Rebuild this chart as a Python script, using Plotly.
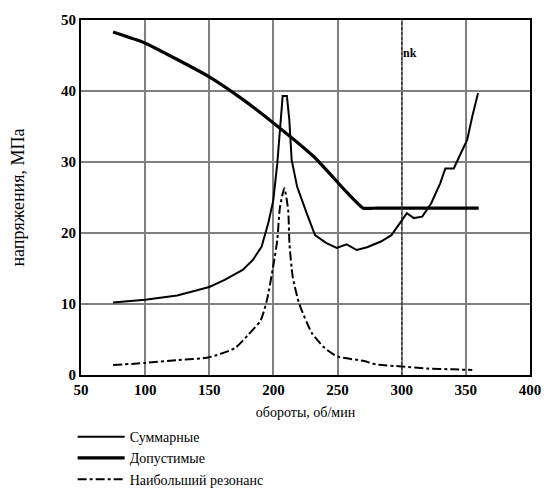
import plotly.graph_objects as go

# Допустимые (allowable)
allow_x = [75, 99.3, 125.4, 150, 174.7, 200.7, 231.8, 257.9, 270, 280, 300, 330, 360]
allow_y = [48.3, 46.8, 44.4, 42.0, 39.0, 35.4, 30.7, 25.6, 23.5, 23.5, 23.5, 23.5, 23.5]

# Суммарные (total)
sum_x = [75, 100, 125, 150, 162, 176, 184, 190.8, 196, 199.9, 203, 205.1, 207.2, 210.5,
         212.4, 214.2, 218.5, 225.9, 232.4, 241, 249.3, 257.1, 265, 273, 283.8, 292, 300,
         304, 309.5, 316, 323, 330, 334, 340.6, 346, 351, 355, 359.5]
sum_y = [10.2, 10.6, 11.2, 12.4, 13.4, 14.8, 16.2, 18.1, 21.4, 24.6, 29.8, 34.5, 39.3, 39.3,
         35.9, 30.3, 26.5, 22.8, 19.7, 18.6, 17.9, 18.4, 17.6, 18.0, 18.8, 19.7, 21.8,
         22.8, 22.1, 22.3, 24.2, 27.0, 29.1, 29.1, 31.2, 33.1, 36.4, 39.7]

# Наибольший резонанс (largest resonance)
res_x = [75, 100, 125, 150, 170, 180, 190, 195, 200, 203, 205, 208.5, 211.5, 212.5, 215, 220,
         230, 240, 250, 270, 280, 300, 320, 340, 355]
res_y = [1.4, 1.7, 2.1, 2.5, 3.8, 5.6, 7.7, 10.6, 15.5, 19.0, 23.5, 26.3, 23.2, 18.5, 13.9,
         10.1, 5.9, 3.8, 2.6, 2.0, 1.5, 1.2, 0.9, 0.8, 0.7]

nk_x = 300
x_ticks = [50, 100, 150, 200, 250, 300, 350, 400]
y_ticks = [0, 10, 20, 30, 40, 50]

SERIF = "Liberation Serif, DejaVu Serif, serif"

fig = go.Figure()
fig.add_trace(go.Scatter(x=sum_x, y=sum_y, mode="lines", name="Суммарные",
                         line=dict(color="black", width=2)))
fig.add_trace(go.Scatter(x=allow_x, y=allow_y, mode="lines", name="Допустимые",
                         line=dict(color="black", width=3.2, shape="spline", smoothing=0.4)))
fig.add_trace(go.Scatter(x=res_x, y=res_y, mode="lines", name="Наибольший резонанс",
                         line=dict(color="black", width=2, dash="dashdot", shape="spline",
                                   smoothing=0.6)))

fig.add_shape(type="line", x0=nk_x, x1=nk_x, y0=0, y1=50, xref="x", yref="y",
              line=dict(color="#333333", width=1.2, dash="3px,2px"), layer="above")
fig.add_annotation(x=nk_x, y=45.3, xref="x", yref="y", text="<b>nk</b>", showarrow=False,
                   xanchor="left", yanchor="middle", xshift=-1,
                   font=dict(family=SERIF, size=12, color="black"))

fig.update_layout(
    width=544, height=488,
    margin=dict(l=81, r=14, t=20, b=113, autoexpand=False),
    paper_bgcolor="white", plot_bgcolor="white",
    font=dict(family=SERIF, color="black"),
    showlegend=True,
    legend=dict(x=-0.0186, y=-0.13, xanchor="left", yanchor="top",
                font=dict(family=SERIF, size=14, color="black"),
                tracegroupgap=0, itemwidth=47, bgcolor="rgba(0,0,0,0)"),
)
fig.update_xaxes(range=[50, 400], tickvals=x_ticks, ticks="", showgrid=True,
                 gridcolor="#808080", gridwidth=2, zeroline=False,
                 showline=True, linecolor="black", linewidth=2, mirror=True,
                 tickfont=dict(family=SERIF, size=15, color="black", weight="bold"),
                 title=dict(text="обороты, об/мин", standoff=10,
                            font=dict(family=SERIF, size=14, color="black")))
fig.update_yaxes(range=[0, 50], tickvals=y_ticks, ticks="", showgrid=True,
                 gridcolor="#808080", gridwidth=2, zeroline=False,
                 showline=True, linecolor="black", linewidth=2, mirror=True,
                 tickfont=dict(family=SERIF, size=15, color="black", weight="bold"),
                 title=dict(text="напряжения, МПа", standoff=32,
                            font=dict(family=SERIF, size=18, color="black")))

fig.write_html("out.html", config={"displayModeBar": False},
               post_script="document.body.style.margin='0';document.body.style.overflow='hidden';")
